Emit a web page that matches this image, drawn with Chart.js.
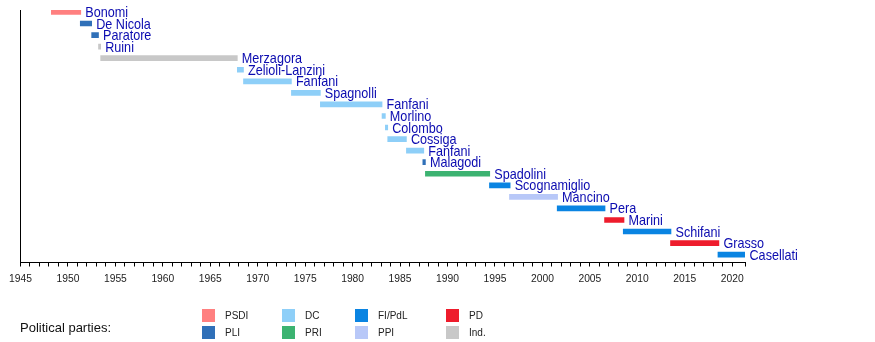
<!DOCTYPE html>
<html>
<head>
<meta charset="utf-8">
<script src="https://cdn.jsdelivr.net/npm/chart.js@4/dist/chart.umd.min.js"></script>
<style>
  body { margin: 0; background: #fff; font-family: "Liberation Sans", Arial, sans-serif; }
  #wrap { position: relative; width: 875px; height: 342px; }
  .lg { position: absolute; font-size: 10px; color: #222; line-height: 13px; }
  .sw { position: absolute; width: 13px; height: 13px; }
  #title { position: absolute; left: 20px; top: 320px; font-size: 13px; color: #111; }
</style>
</head>
<body>
<div id="wrap">
  <canvas id="myChart" width="875" height="342"></canvas>
  <div id="title">Political parties:</div>
  <div id="legend"></div>
</div>
<script>
// presidents of the Senate, in order (decimal years)
const names = ['Bonomi', 'De Nicola', 'Paratore', 'Ruini', 'Merzagora', 'Zelioli-Lanzini', 'Fanfani',
  'Spagnolli', 'Fanfani', 'Morlino', 'Colombo', 'Cossiga', 'Fanfani', 'Malagodi', 'Spadolini',
  'Scognamiglio', 'Mancino', 'Pera', 'Marini', 'Schifani', 'Grasso', 'Casellati'];
const starts = [1948.25, 1951.3, 1952.5, 1953.22, 1953.45, 1967.85, 1968.5, 1973.55, 1976.6, 1983.1,
  1983.45, 1983.7, 1985.67, 1987.4, 1987.67, 1994.42, 1996.53, 2001.56, 2006.55, 2008.52, 2013.5, 2018.5];
const ends = [1951.35, 1952.5, 1953.22, 1953.45, 1967.85, 1968.5, 1973.55, 1976.6, 1983.1, 1983.45,
  1983.7, 1985.67, 1987.5, 1987.67, 1994.45, 1996.6, 2001.6, 2006.6, 2008.6, 2013.55, 2018.6, 2021.35];
const parties = ['PSDI', 'PLI', 'PLI', 'Ind.', 'Ind.', 'DC', 'DC', 'DC', 'DC', 'DC', 'DC', 'DC', 'DC',
  'PLI', 'PRI', 'FI/PdL', 'PPI', 'FI/PdL', 'PD', 'FI/PdL', 'PD', 'FI/PdL'];

const legendOrder = ['PSDI', 'PLI', 'DC', 'PRI', 'FI/PdL', 'PPI', 'PD', 'Ind.'];
const colors = {
  'PSDI': '#ff8080', 'PLI': '#3070b8', 'DC': '#8ecff8', 'PRI': '#3cb371',
  'FI/PdL': '#0a84e2', 'PPI': '#b8c8f8', 'PD': '#ee1c2c', 'Ind.': '#c8c8c8'
};

// legend
const legend = document.getElementById('legend');
const colX = [202, 282, 355, 446];
legendOrder.forEach((p, i) => {
  const col = Math.floor(i / 2), row = i % 2;
  const sw = document.createElement('div');
  sw.className = 'sw';
  sw.style.left = colX[col] + 'px';
  sw.style.top = (309 + row * 17) + 'px';
  sw.style.background = colors[p];
  legend.appendChild(sw);
  const t = document.createElement('div');
  t.className = 'lg';
  t.style.left = (colX[col] + 23) + 'px';
  t.style.top = (309 + row * 17) + 'px';
  t.textContent = p;
  legend.appendChild(t);
});

// names to the right of each bar (narrow lettering like the original)
const barLabels = {
  id: 'barLabels',
  afterDatasetsDraw(chart) {
    const ctx = chart.ctx;
    const meta = chart.getDatasetMeta(0);
    meta.data.forEach((bar, i) => {
      const x = Math.max(bar.x, bar.base) + 4.5;
      ctx.save();
      ctx.translate(x, bar.y + 5);
      ctx.scale(0.87, 1);
      ctx.font = '14.5px "Liberation Sans", Arial, sans-serif';
      ctx.fillStyle = '#0c0cb0';
      ctx.textBaseline = 'alphabetic';
      ctx.fillText(names[i], 0, 0);
      ctx.restore();
    });
  }
};

// eslint-disable-next-line no-new
new Chart(document.getElementById('myChart'), {
  type: 'bar',
  data: {
    datasets: [{
      data: names.map((n, i) => ({ x: [starts[i], ends[i]], y: i })),
      backgroundColor: parties.map((p) => colors[p]),
      barThickness: 5,
      borderWidth: 0,
      borderSkipped: false
    }]
  },
  options: {
    responsive: false,
    animation: false,
    indexAxis: 'y',
    layout: { padding: { left: 20.5, right: 130, top: 10, bottom: 49.5 } },
    plugins: { legend: { display: false }, tooltip: { enabled: false } },
    scales: {
      x: {
        type: 'linear',
        offset: false,
        min: 1945,
        max: 2021.35,
        afterFit: (s) => { s.height = 30; },
        border: { color: '#000', width: 1 },
        grid: { drawOnChartArea: false, color: '#000', tickLength: 4 },
        ticks: {
          stepSize: 1,
          autoSkip: false,
          maxRotation: 0,
          padding: 6.5,
          color: '#222',
          font: { family: '"Liberation Sans", Arial, sans-serif', size: 10.3 },
          callback: (v) => (v % 5 === 0 ? String(v) : '')
        }
      },
      y: {
        type: 'linear',
        offset: false,
        reverse: true,
        min: -0.17,
        max: 21.68,
        afterFit: (s) => { s.width = 0; },
        border: { color: '#000', width: 1 },
        grid: { display: false },
        ticks: { display: false }
      }
    }
  },
  plugins: [barLabels]
});
</script>
</body>
</html>
